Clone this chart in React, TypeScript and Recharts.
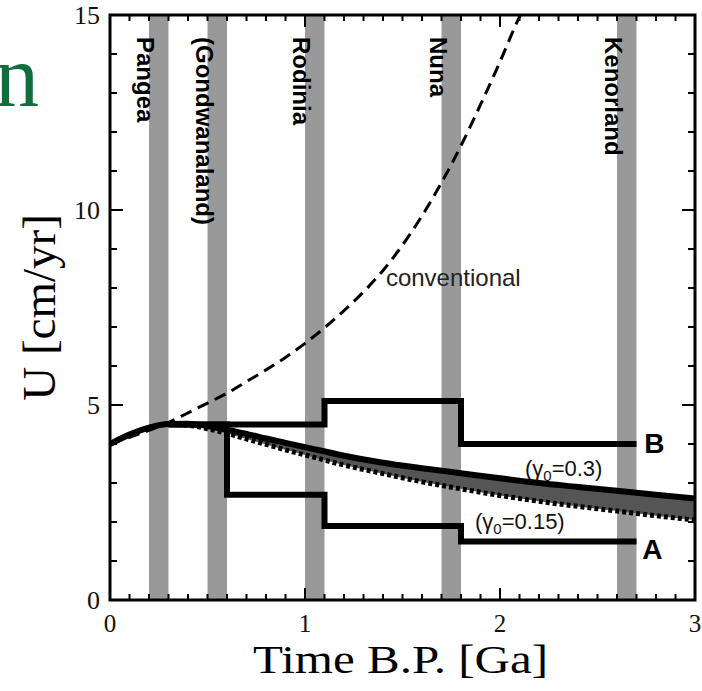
import React from 'react';
import {
  ComposedChart,
  Line,
  Area,
  XAxis,
  YAxis,
  ReferenceArea,
  ReferenceDot,
  Label,
} from 'recharts';

// Supercontinent epochs (Ga before present)
const continentNames = ['Pangea', '(Gondwanaland)', 'Rodinia', 'Nuna', 'Kenorland'];
const continentStart = [0.2, 0.5, 1.0, 1.7, 2.6];
const continentEnd = [0.3, 0.6, 1.1, 1.8, 2.7];

// Conventional thermal history (dashed)
const convTime = [0, 0.1, 0.2, 0.3, 0.4, 0.5, 0.6, 0.7, 0.8, 0.9, 1.0, 1.1, 1.2, 1.3, 1.4, 1.5, 1.6, 1.7, 1.8, 1.9, 2.0, 2.1, 2.105];
const convU = [4.0, 4.17, 4.35, 4.55, 4.8, 5.05, 5.3, 5.6, 5.9, 6.22, 6.58, 6.98, 7.42, 7.9, 8.45, 9.1, 9.85, 10.7, 11.65, 12.7, 13.8, 14.95, 15.0];

// Model curves for gamma0 = 0.3 (solid) and gamma0 = 0.15 (dotted)
const curveTime = [0, 0.1, 0.2, 0.3, 0.4, 0.5, 0.6, 0.7, 0.8, 0.9, 1.0, 1.2, 1.4, 1.6, 1.8, 2.0, 2.2, 2.4, 2.6, 2.8, 3.0];
const uGamma03 = [4.0, 4.24, 4.42, 4.51, 4.52, 4.46, 4.37, 4.26, 4.14, 4.03, 3.92, 3.7, 3.52, 3.38, 3.25, 3.12, 3.0, 2.9, 2.8, 2.7, 2.6];
const uGamma015 = [4.0, 4.24, 4.42, 4.5, 4.48, 4.39, 4.27, 4.13, 3.99, 3.85, 3.72, 3.46, 3.24, 3.03, 2.85, 2.68, 2.53, 2.4, 2.28, 2.16, 2.05];

// Piecewise histories B and A
const stepBTime = [0.3, 1.1, 1.1, 1.8, 1.8, 2.7];
const stepBU = [4.5, 4.5, 5.1, 5.1, 4.0, 4.0];
const stepATime = [0.3, 0.6, 0.6, 1.1, 1.1, 1.8, 1.8, 2.7];
const stepAU = [4.5, 4.5, 2.7, 2.7, 1.9, 1.9, 1.5, 1.5];

// Axis ticks
const xMajorTicks = [0, 1, 2, 3];
const xMinorTicks = [0, 0.1, 0.2, 0.3, 0.4, 0.5, 0.6, 0.7, 0.8, 0.9, 1, 1.1, 1.2, 1.3, 1.4, 1.5, 1.6, 1.7, 1.8, 1.9, 2, 2.1, 2.2, 2.3, 2.4, 2.5, 2.6, 2.7, 2.8, 2.9, 3];
const yMajorTicks = [0, 5, 10, 15];
const yMinorTicks = [0, 1, 2, 3, 4, 5, 6, 7, 8, 9, 10, 11, 12, 13, 14, 15];

// Text annotations anchored in data space
const annotations = [
  { key: 'conv', x: 1.415, y: 8.05 },
  { key: 'B', x: 2.74, y: 3.78 },
  { key: 'A', x: 2.73, y: 1.05 },
  { key: 'g03', x: 2.128, y: 3.18 },
  { key: 'g015', x: 1.872, y: 1.82 },
];

const convData = convTime.map((t, i) => ({ t, u: convU[i] }));
const g03Data = curveTime.map((t, i) => ({ t, u: uGamma03[i] }));
const g015Data = curveTime.map((t, i) => ({ t, u: uGamma015[i] }));
const bandData = curveTime.map((t, i) => ({ t, band: [uGamma015[i], uGamma03[i]] }));
const stepBData = stepBTime.map((t, i) => ({ t, u: stepBU[i] }));
const stepAData = stepATime.map((t, i) => ({ t, u: stepAU[i] }));

const SANS = '"Liberation Sans", Arial, Helvetica, sans-serif';
const SERIF = '"Liberation Serif", "Times New Roman", Times, serif';

// inward tick mark drawn at the axis edge; longer on major values
function tickMark(side: 'top' | 'bottom' | 'left' | 'right', majors: number[], major: number, minor: number) {
  return (p: any) => {
    const v = p.payload.value;
    const len = majors.includes(v) ? major : minor;
    const x = p.x;
    const y = p.y;
    let x2 = x;
    let y2 = y;
    if (side === 'bottom') y2 = y - len;
    if (side === 'top') y2 = y + len;
    if (side === 'left') x2 = x + len;
    if (side === 'right') x2 = x - len;
    return <line x1={x} y1={y} x2={x2} y2={y2} stroke="#000" strokeWidth={2} />;
  };
}

function renderAnnotation(key: string, cx: number, cy: number) {
  switch (key) {
    case 'conv':
      return (
        <text x={cx} y={cy} fontFamily={SANS} fontSize={24} fill="#222">
          conventional
        </text>
      );
    case 'B':
    case 'A':
      return (
        <text x={cx} y={cy} fontFamily={SANS} fontSize={28} fontWeight={700} fill="#000">
          {key}
        </text>
      );
    case 'g03':
    case 'g015':
      return (
        <text x={cx} y={cy} fontFamily={SANS} fontSize={22} fill="#111">
          (γ
          <tspan fontSize={15} dy={5}>0</tspan>
          <tspan dy={-5}>{key === 'g03' ? '=0.3)' : '=0.15)'}</tspan>
        </text>
      );
    default:
      return <g />;
  }
}

export default function App() {
  return (
    <div style={{ position: 'absolute', left: 0, top: 0, width: 702, height: 691, background: '#fff' }}>
      <svg width={702} height={691} style={{ position: 'absolute', left: 0, top: 0 }}>
        <text x={-5} y={106} fontFamily={SERIF} fontSize={88} fill="#0f6e3a">
          n
        </text>
      </svg>
      <div style={{ position: 'absolute', left: 0, top: 0 }}>
        <ComposedChart width={702} height={691} margin={{ top: 15, right: 7, bottom: 0, left: 0 }}>
          {/* tick labels and titles */}
          <XAxis
            xAxisId={0}
            dataKey="t"
            type="number"
            domain={[0, 3]}
            allowDataOverflow
            ticks={xMajorTicks}
            interval={0}
            height={91}
            axisLine={false}
            tickLine={false}
            tickSize={0}
            tickMargin={14}
            tick={(p: any) => (
              <text x={p.x} y={p.y} dy={18} textAnchor="middle" fontFamily={SERIF} fontSize={25} fill="#111">
                {p.payload.value}
              </text>
            )}
          >
            <Label
              content={(p: any) => {
                const vb = p.viewBox;
                return (
                  <text
                    x={vb.x + vb.width / 2 - 149.5}
                    y={vb.y + 73}
                    fontFamily={SERIF}
                    fontSize={40}
                    fill="#000"
                    textLength={295}
                    lengthAdjust="spacingAndGlyphs"
                  >
                    Time B.P. [Ga]
                  </text>
                );
              }}
            />
          </XAxis>
          <YAxis
            yAxisId={0}
            type="number"
            domain={[0, 15]}
            allowDataOverflow
            ticks={yMajorTicks}
            interval={0}
            width={110}
            axisLine={false}
            tickLine={false}
            tickSize={0}
            tickMargin={10}
            tick={(p: any) => (
              <text x={p.x} y={p.y} dy={9} textAnchor="end" fontFamily={SERIF} fontSize={26} fill="#111">
                {p.payload.value}
              </text>
            )}
          >
            <Label
              content={(p: any) => {
                const vb = p.viewBox;
                const cy = vb.y + vb.height / 2;
                return (
                  <text
                    transform={`translate(55, ${cy}) rotate(-90)`}
                    textAnchor="middle"
                    fontFamily={SERIF}
                    fontSize={47}
                    fill="#000"
                  >
                    U [cm/yr]
                  </text>
                );
              }}
            />
          </YAxis>

          {/* inward tick marks on all four sides */}
          <XAxis xAxisId="bIn" dataKey="t" type="number" domain={[0, 3]} allowDataOverflow ticks={xMinorTicks} interval={0} orientation="bottom" mirror axisLine={false} tickLine={false} tickSize={0} tickMargin={0} tick={tickMark('bottom', xMajorTicks, 12, 6)} />
          <XAxis xAxisId="tIn" dataKey="t" type="number" domain={[0, 3]} allowDataOverflow ticks={xMinorTicks} interval={0} orientation="top" mirror axisLine={false} tickLine={false} tickSize={0} tickMargin={0} tick={tickMark('top', xMajorTicks, 12, 6)} />
          <YAxis yAxisId="lIn" type="number" domain={[0, 15]} allowDataOverflow ticks={yMinorTicks} interval={0} orientation="left" mirror axisLine={false} tickLine={false} tickSize={0} tickMargin={0} tick={tickMark('left', yMajorTicks, 13, 7)} />
          <YAxis yAxisId="rIn" type="number" domain={[0, 15]} allowDataOverflow ticks={yMinorTicks} interval={0} orientation="right" mirror axisLine={false} tickLine={false} tickSize={0} tickMargin={0} tick={tickMark('right', yMajorTicks, 13, 7)} />

          {/* supercontinent bands */}
          {continentNames.map((name, i) => (
            <ReferenceArea
              key={name}
              x1={continentStart[i]}
              x2={continentEnd[i]}
              y1={0}
              y2={15}
              fill="#999999"
              fillOpacity={1}
              stroke="none"
              ifOverflow="visible"
            >
              <Label
                content={(p: any) => {
                  const vb = p.viewBox;
                  return (
                    <text
                      transform={`translate(${vb.x - 12}, ${vb.y + 22}) rotate(90)`}
                      fontFamily={SANS}
                      fontSize={24}
                      fontWeight={700}
                      fill="#000"
                    >
                      {name}
                    </text>
                  );
                }}
              />
            </ReferenceArea>
          ))}

          <Line
            data={convData}
            dataKey="u"
            type="monotone"
            stroke="#000"
            strokeWidth={3}
            strokeDasharray="12 7"
            dot={false}
            activeDot={false}
            isAnimationActive={false}
          />
          <Area
            data={bandData}
            dataKey="band"
            type="monotone"
            fill="#555555"
            fillOpacity={1}
            stroke="none"
            dot={false}
            activeDot={false}
            isAnimationActive={false}
          />
          <Line
            data={g015Data}
            dataKey="u"
            type="monotone"
            stroke="#000"
            strokeWidth={5}
            strokeDasharray="4 3"
            dot={false}
            activeDot={false}
            isAnimationActive={false}
          />
          <Line
            data={g03Data}
            dataKey="u"
            type="monotone"
            stroke="#000"
            strokeWidth={6}
            dot={false}
            activeDot={false}
            isAnimationActive={false}
          />
          <Line
            data={stepBData}
            dataKey="u"
            type="linear"
            stroke="#000"
            strokeWidth={6}
            strokeLinejoin="miter"
            dot={false}
            activeDot={false}
            isAnimationActive={false}
          />
          <Line
            data={stepAData}
            dataKey="u"
            type="linear"
            stroke="#000"
            strokeWidth={6}
            strokeLinejoin="miter"
            dot={false}
            activeDot={false}
            isAnimationActive={false}
          />

          {/* plot frame */}
          <ReferenceArea x1={0} x2={3} y1={0} y2={15} fill="none" stroke="#000" strokeWidth={3} ifOverflow="visible" />

          {annotations.map((a) => (
            <ReferenceDot
              key={a.key}
              x={a.x}
              y={a.y}
              r={0}
              ifOverflow="visible"
              shape={(p: any) => renderAnnotation(a.key, p.cx, p.cy)}
            />
          ))}
        </ComposedChart>
      </div>
    </div>
  );
}
